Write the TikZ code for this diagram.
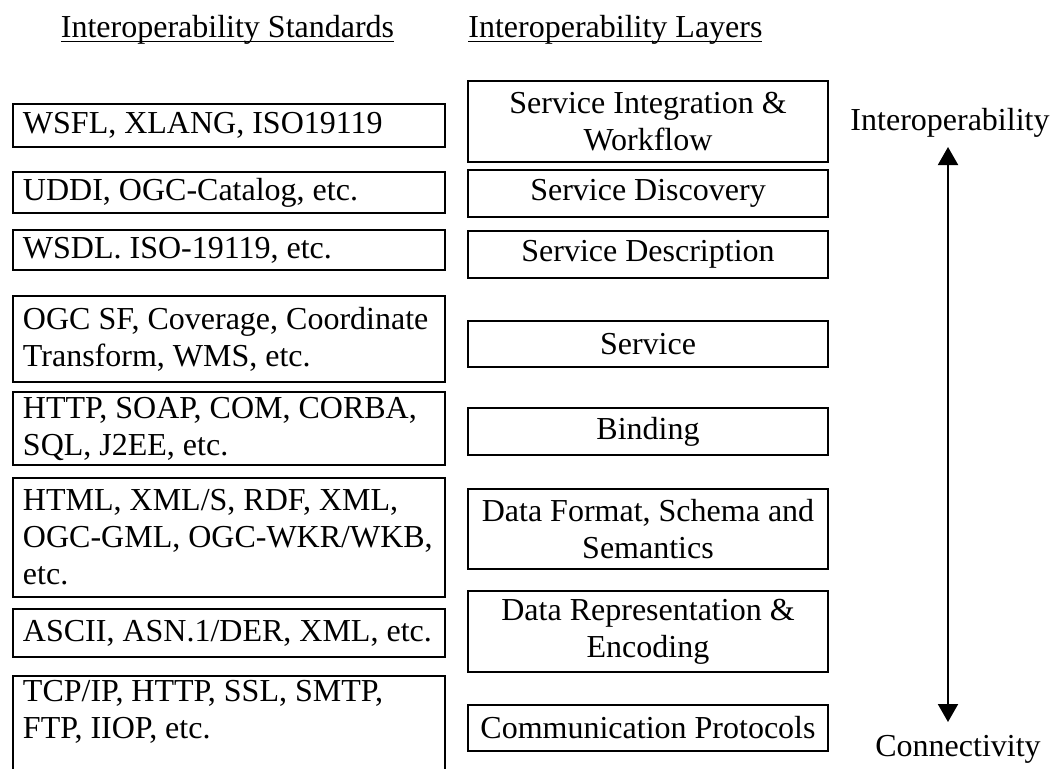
\documentclass[tikz,border=0pt]{standalone}
\usepackage{fontspec}
\setmainfont{Liberation Serif}
\usetikzlibrary{arrows.meta}

\newlength\ulwd
\newcommand{\ultext}[1]{\settowidth{\ulwd}{#1}\makebox[0pt][l]{\rule[-2.5pt]{\ulwd}{0.75pt}}#1}

\tikzset{
  stdbox/.style={draw,line width=1pt,anchor=north west,text width=206pt,
    inner xsep=5pt,inner ysep=2pt,align=flush left},
  layerbox/.style={draw,line width=1pt,anchor=north,minimum width=180pt,
    inner ysep=2pt,align=center},
  headlbl/.style={anchor=base,inner sep=0pt}
}

\begin{document}
\begin{tikzpicture}[x=0.5pt,y=-0.5pt,font=\fontsize{16pt}{18.5pt}\selectfont]
\useasboundingbox (0,0) rectangle (1056,768);

\node[headlbl,anchor=base west] (stdhead) at (60.5,37) {\ultext{Interoperability Standards}};
\node[headlbl,anchor=base west] (layhead) at (468,37) {\ultext{Interoperability Layers}};

\node[stdbox,minimum height=21.5pt] (std1) at (12,103) {WSFL, XLANG, ISO19119};
\node[stdbox,minimum height=20.5pt] (std2) at (12,171) {UDDI, OGC-Catalog, etc.};
\node[stdbox,minimum height=20pt] (std3) at (12,229) {WSDL. ISO-19119, etc.};
\node[stdbox,minimum height=43pt] (std4) at (12,295) {OGC SF, Coverage, Coordinate\\Transform, WMS, etc.};
\node[stdbox,minimum height=36.5pt,inner ysep=0pt] (std5) at (12,391) {HTTP, SOAP, COM, CORBA,\\SQL, J2EE, etc.};
\node[stdbox,minimum height=59.5pt] (std6) at (12,477) {HTML, XML/S, RDF, XML,\\OGC-GML, OGC-WKR/WKB,\\etc.};
\node[stdbox,minimum height=24pt] (std7) at (12,608) {ASCII, ASN.1/DER, XML, etc.};
\node[stdbox,text depth=45pt] (std8) at (12,675) {TCP/IP, HTTP, SSL, SMTP,\\FTP, IIOP, etc.};

\node[layerbox,minimum height=40.5pt] (lay1) at (648,80) {Service Integration \&\\Workflow};
\node[layerbox,minimum height=23.5pt] (lay2) at (648,169) {Service Discovery};
\node[layerbox,minimum height=23.5pt] (lay3) at (648,230) {Service Description};
\node[layerbox,minimum height=23pt] (lay4) at (648,320) {Service};
\node[layerbox,minimum height=23.5pt] (lay5) at (648,407) {Binding};
\node[layerbox,minimum height=40pt] (lay6) at (648,488) {Data Format, Schema and\\Semantics};
\node[layerbox,minimum height=40.5pt] (lay7) at (648,590) {Data Representation \&\\Encoding};
\node[layerbox,minimum height=23pt] (lay8) at (648,704) {Communication Protocols};

\node[headlbl] (interop) at (950,130) {Interoperability};
\node[headlbl] (connect) at (958,756) {Connectivity};

\coordinate (arrtop) at (948,147);
\coordinate (arrbot) at (948,722);
\draw[line width=1pt,{Triangle[width=10pt,length=9pt]}-{Triangle[width=10pt,length=9pt]}] (arrtop) -- (arrbot);

\end{tikzpicture}
\end{document}
